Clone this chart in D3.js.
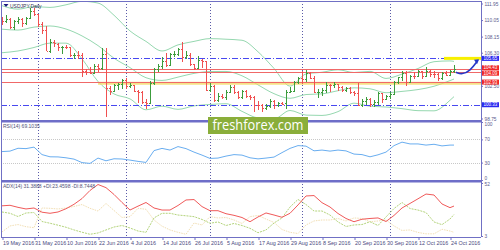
<!DOCTYPE html>
<html>
<head>
<meta charset="utf-8">
<script src="https://cdn.jsdelivr.net/npm/d3@7"></script>
<style>
body { margin: 0; background: #fff; }
svg { display: block; font-family: "Liberation Sans", Arial, sans-serif; }
</style>
</head>
<body>
<script>
// ---- data ----
var tickBars = [0, 8, 16, 24, 32, 40, 48, 56, 64, 72, 80, 88, 96, 104, 112];
var tickLabels = ["19 May 2016", "31 May 2016", "10 Jun 2016", "22 Jun 2016", "4 Jul 2016", "14 Jul 2016",
    "26 Jul 2016", "5 Aug 2016", "17 Aug 2016", "29 Aug 2016", "8 Sep 2016", "20 Sep 2016",
    "30 Sep 2016", "12 Oct 2016", "24 Oct 2016"];
var monthBars = [9, 31, 52, 75, 97];

var open = [110.0, 109.9, 110.15, 109.25, 109.95, 110.2, 109.75, 110.25, 111.1, 110.7,
    109.55, 108.95, 106.55, 107.55, 107.35, 106.9, 107.0, 106.95, 106.05, 106.05,
    106.0, 104.25, 104.1, 104.0, 104.75, 104.5, 106.15, 102.25, 101.9, 102.55,
    102.75, 103.2, 102.5, 102.6, 101.95, 101.75, 100.7, 100.55, 102.85, 104.4,
    104.75, 105.3, 104.85, 106.1, 106.15, 106.75, 105.8, 106.05, 105.0, 104.55,
    105.45, 105.3, 102.05, 102.5, 100.85, 101.3, 101.25, 101.8, 102.4, 101.8,
    101.2, 101.85, 101.3, 101.25, 100.3, 100.25, 99.9, 100.2, 100.75, 100.3,
    100.5, 100.5, 101.8, 101.95, 102.95, 103.4, 103.3, 104.0, 103.45, 101.75,
    101.75, 102.0, 102.65, 102.55, 102.7, 102.4, 102.05, 102.3, 101.75, 101.7,
    100.3, 100.75, 101.0, 100.4, 100.7, 101.7, 100.95, 101.35, 101.6, 102.9,
    103.5, 103.95, 102.95, 103.65, 103.6, 104.2, 103.6, 104.2, 103.9, 103.85,
    103.45, 103.95, 103.8, 104.2];
var high = [110.35, 110.6, 110.25, 110.0, 110.35, 110.25, 110.4, 111.45, 111.4, 110.75,
    109.8, 109.35, 107.9, 107.8, 107.45, 107.1, 107.2, 107.0, 106.3, 106.45,
    106.25, 104.4, 104.7, 104.95, 105.0, 106.8, 106.8, 102.5, 102.75, 102.8,
    103.3, 103.35, 102.8, 102.65, 102.0, 101.85, 100.95, 103.0, 104.5, 105.05,
    105.8, 106.3, 106.3, 106.5, 106.8, 107.5, 106.55, 106.3, 105.05, 105.95,
    105.55, 105.35, 102.85, 102.6, 101.7, 101.55, 102.05, 102.6, 102.6, 101.9,
    102.05, 102.0, 101.5, 101.3, 100.8, 100.45, 100.4, 100.95, 100.85, 100.65,
    100.7, 102.05, 102.4, 103.0, 103.55, 104.2, 104.3, 104.1, 103.6, 102.15,
    102.25, 102.95, 102.7, 102.9, 102.75, 102.5, 102.4, 102.35, 101.9, 102.8,
    101.0, 101.25, 101.05, 100.85, 101.8, 101.7, 101.45, 101.75, 103.0, 103.55,
    104.15, 104.15, 103.75, 104.05, 104.35, 104.25, 104.65, 104.3, 104.15, 103.95,
    104.05, 104.15, 104.35, 104.9];
var low = [109.55, 109.75, 109.1, 108.95, 109.7, 109.3, 109.55, 110.2, 110.55, 109.3,
    108.5, 106.5, 106.35, 107.0, 106.6, 106.25, 106.75, 105.9, 105.65, 105.6,
    103.55, 103.75, 103.9, 103.95, 104.1, 104.4, 99.0, 101.45, 101.8, 102.1,
    102.25, 102.25, 102.3, 101.9, 100.55, 100.5, 99.95, 100.5, 102.7, 104.1,
    104.5, 104.7, 104.85, 105.9, 105.95, 105.35, 105.6, 104.85, 104.4, 104.45,
    104.6, 101.95, 101.9, 100.7, 100.65, 101.0, 100.95, 101.75, 101.6, 101.05,
    101.1, 101.2, 100.95, 99.55, 99.75, 99.55, 99.75, 100.05, 99.95, 100.1,
    100.3, 99.95, 101.7, 101.9, 102.75, 102.8, 102.95, 103.3, 101.7, 101.2,
    101.35, 101.75, 101.9, 102.3, 102.0, 101.85, 101.85, 101.6, 101.4, 100.25,
    100.1, 100.35, 100.1, 100.1, 100.4, 100.6, 100.95, 101.0, 101.45, 102.8,
    103.1, 102.5, 102.85, 103.3, 103.55, 103.3, 103.55, 103.6, 103.5, 103.1,
    103.25, 103.65, 103.75, 104.0];
var close = [109.9, 110.15, 109.25, 109.95, 110.2, 109.75, 110.25, 111.1, 110.7, 109.55,
    108.95, 106.55, 107.55, 107.4, 106.9, 107.0, 106.95, 106.05, 106.05, 106.0,
    104.25, 104.1, 104.0, 104.75, 104.5, 106.15, 102.25, 101.9, 102.55, 102.75,
    103.2, 102.5, 102.6, 101.95, 101.75, 100.7, 100.55, 102.85, 104.4, 104.75,
    105.3, 104.85, 106.1, 106.15, 106.75, 105.8, 106.05, 105.0, 104.55, 105.45,
    105.3, 102.05, 102.5, 100.85, 101.3, 101.25, 101.8, 102.4, 101.8, 101.2,
    101.85, 101.3, 101.25, 100.3, 100.25, 99.9, 100.2, 100.75, 100.3, 100.5,
    100.45, 101.8, 101.95, 102.95, 103.4, 103.3, 104.0, 103.45, 101.75, 101.8,
    102.0, 102.65, 102.55, 102.7, 102.4, 102.05, 102.3, 101.75, 101.7, 100.3,
    100.75, 101.0, 100.4, 100.7, 101.7, 100.95, 101.35, 101.6, 102.9, 103.5,
    103.95, 102.95, 103.65, 103.6, 104.2, 103.6, 104.2, 103.9, 103.85, 103.45,
    103.95, 103.8, 104.2, 104.4];

// Bollinger bands (20), read every 4 bars
var bandBars = [0, 4, 8, 12, 16, 20, 24, 28, 32, 36, 40, 44, 48, 52, 56, 60, 64, 68, 72, 76,
    80, 84, 88, 92, 96, 100, 104, 108, 112, 113];
var bbUpper = [111.7, 111.3, 111.6, 111.5, 111.8, 112.2, 112.0, 110.6, 108.8, 107.6,
    106.5, 107.2, 107.6, 107.92, 107.85, 107.73, 106.41, 104.5, 102.47, 103.86,
    104.06, 104.34, 104.03, 104.16, 103.35, 103.84, 104.49, 105.27, 105.36, 105.3];
var bbMid = [109.0, 108.9, 109.24, 109.37, 109.02, 108.23, 107.12, 105.67, 104.59, 103.43,
    103.12, 103.5, 103.93, 104.14, 104.15, 103.65, 102.61, 101.6, 101.07, 101.5,
    101.58, 101.94, 102.27, 102.16, 101.71, 101.86, 102.07, 102.45, 103.1, 103.28];
var bbLower = [106.3, 106.5, 106.9, 107.4, 107.4, 105.6, 103.0, 101.57, 101.0, 99.75,
    100.16, 99.8, 100.2, 100.36, 100.45, 99.57, 98.81, 98.7, 99.67, 99.14,
    99.1, 99.54, 100.51, 100.16, 100.07, 99.88, 99.65, 99.63, 100.84, 101.26];

// oscillators, read every 2 bars
var indBars = d3.range(0, 114, 2).concat([113]);
var rsi = [49.0, 49.8, 54.7, 54.1, 56.7, 43.8, 40.0, 39.8, 38.3, 36.0,
    30.0, 28.6, 37.8, 33.1, 36.6, 36.2, 34.3, 32.1, 30.3, 50.7,
    54.5, 51.6, 57.6, 54.1, 48.1, 42.9, 37.2, 37.8, 41.2, 43.8,
    42.9, 38.3, 36.4, 37.8, 39.5, 47.2, 54.5, 59.3, 58.4, 50.3,
    51.6, 49.8, 51.6, 50.2, 44.7, 43.8, 40.0, 43.4, 48.1, 59.3,
    65.3, 62.2, 62.2, 60.2, 61.6, 58.8, 60.2, 60.2];
var adx = [30.9, 31.4, 29.5, 28.0, 28.9, 25.0, 24.0, 25.2, 28.2, 32.3,
    37.6, 45.1, 50.6, 47.7, 41.4, 34.0, 27.0, 30.6, 34.0, 28.9,
    27.0, 27.0, 31.2, 36.3, 36.7, 30.2, 26.4, 26.4, 23.6, 22.1,
    20.1, 16.2, 20.6, 24.3, 22.4, 20.3, 24.0, 31.7, 40.0, 40.4,
    33.8, 29.8, 23.8, 19.2, 16.2, 18.5, 19.2, 19.7, 16.4, 22.0,
    28.9, 33.1, 37.4, 41.8, 40.9, 32.6, 29.2, 30.7];
var plusDI = [25.2, 24.0, 21.0, 24.3, 24.7, 16.4, 14.8, 13.0, 11.1, 8.6,
    6.5, 4.6, 5.8, 8.6, 11.3, 12.7, 10.4, 7.6, 6.4, 19.7,
    24.0, 24.0, 22.4, 21.7, 20.9, 18.3, 14.8, 16.0, 12.7, 14.6,
    12.7, 10.1, 6.0, 8.6, 15.0, 19.7, 29.8, 36.8, 32.1, 26.1,
    26.1, 22.4, 16.0, 11.8, 13.2, 13.6, 16.2, 12.7, 20.6, 28.4,
    34.0, 28.4, 27.0, 24.7, 16.0, 13.5, 18.7, 22.9];
var minusDI = [6.7, 12.3, 13.6, 11.6, 10.7, 28.9, 28.6, 28.0, 28.9, 30.3,
    32.1, 28.6, 26.1, 33.1, 26.6, 20.1, 20.9, 28.6, 27.7, 17.8,
    12.1, 8.6, 6.4, 4.6, 15.0, 13.2, 20.9, 19.7, 20.1, 17.8,
    14.6, 20.9, 22.0, 18.7, 15.5, 9.0, 6.4, 5.3, 13.2, 16.9,
    17.8, 17.8, 19.2, 16.9, 19.7, 19.2, 16.2, 16.9, 17.8, 12.3,
    8.1, 8.6, 6.3, 5.0, 5.0, 9.2, 7.6, 6.4];

var priceTicks = [111.95, 110.05, 108.15, 106.30, 102.50, 98.75];
var rsiTicks = [100, 70, 30, 0];
var adxTicks = [52, 3];
var blueLevels = [105.65, 100.33];
var redLevels = [104.43, 104.09, 102.93];
var zoneLevel = 102.85, zoneStart = 24;
var targetLevel = 105.65;
var arrowPath = [[113.5, 104.05], [115, 103.8], [117, 104.2], [119, 105.45]];

// ---- layout ----
var W = 500, H = 250;
var right = 481;
var svg = d3.select("body").append("svg").attr("width", W).attr("height", H);

var x = d3.scaleLinear().domain([0, 113]).range([2, 454]);
var yP = d3.scaleLinear().domain([98.75, 111.95]).range([118.5, 3.5]);
var yR = d3.scaleLinear().domain([0, 100]).range([180, 122]);
var yA = d3.scaleLinear().domain([3, 52]).range([236, 183]);
var px = function (i) { return Math.round(x(i)) + 0.5; };

var defs = svg.append("defs");
[["clipMain", 1, 121], ["clipRsi", 122, 180], ["clipAdx", 182, 237]].forEach(function (c) {
    defs.append("clipPath").attr("id", c[0]).append("rect")
        .attr("x", 1).attr("y", c[1]).attr("width", right - 1).attr("height", c[2] - c[1]);
});

svg.append("rect").attr("width", W).attr("height", H).attr("fill", "#fff");

// month separators
svg.selectAll(".sep").data(monthBars).enter().append("line")
    .attr("x1", px).attr("x2", px).attr("y1", 1).attr("y2", 237)
    .attr("stroke", "#5a5aa8").attr("stroke-dasharray", "1,2");

var main = svg.append("g").attr("clip-path", "url(#clipMain)");

// bollinger bands
var bandLine = function (vals) {
    return d3.line().curve(d3.curveMonotoneX)
        .x(function (d, k) { return x(bandBars[k]); })
        .y(function (d) { return yP(d); })(vals);
};
[bbUpper, bbMid, bbLower].forEach(function (v) {
    main.append("path").attr("d", bandLine(v)).attr("fill", "none")
        .attr("stroke", "#96d8b0").attr("stroke-width", 1);
});

// support zone highlight
main.append("rect")
    .attr("x", x(zoneStart)).attr("width", right - x(zoneStart))
    .attr("y", yP(zoneLevel) - 1).attr("height", 3)
    .attr("fill", "#f2d860").attr("opacity", 0.75);

// horizontal levels
main.selectAll(".red").data(redLevels).enter().append("line")
    .attr("x1", 1).attr("x2", right)
    .attr("y1", function (d) { return Math.round(yP(d)) + 0.5; })
    .attr("y2", function (d) { return Math.round(yP(d)) + 0.5; })
    .attr("stroke", "#f06868").attr("stroke-width", 1);
main.selectAll(".blue").data(blueLevels).enter().append("line")
    .attr("x1", 1).attr("x2", right)
    .attr("y1", function (d) { return Math.round(yP(d)) + 0.5; })
    .attr("y2", function (d) { return Math.round(yP(d)) + 0.5; })
    .attr("stroke", "#4848f0").attr("stroke-dasharray", "6,2,1,2");

// OHLC bars
var bars = main.selectAll(".bar").data(d3.range(open.length)).enter().append("g")
    .attr("stroke", function (i) { return close[i] >= open[i] ? "#3c9c3c" : "#f05050"; })
    .attr("stroke-width", 1).attr("shape-rendering", "crispEdges");
bars.append("line")
    .attr("x1", px).attr("x2", px)
    .attr("y1", function (i) { return yP(high[i]); })
    .attr("y2", function (i) { return yP(low[i]) + 0.5; });
bars.append("line")
    .attr("x1", function (i) { return px(i) - 1.5; }).attr("x2", px)
    .attr("y1", function (i) { return Math.round(yP(open[i])) + 0.5; })
    .attr("y2", function (i) { return Math.round(yP(open[i])) + 0.5; });
bars.append("line")
    .attr("x1", px).attr("x2", function (i) { return px(i) + 1.5; })
    .attr("y1", function (i) { return Math.round(yP(close[i])) + 0.5; })
    .attr("y2", function (i) { return Math.round(yP(close[i])) + 0.5; });

// target highlight and arrow
main.append("rect")
    .attr("x", x(110.5)).attr("width", right - x(110.5))
    .attr("y", yP(targetLevel) - 1.5).attr("height", 3)
    .attr("fill", "#f8f000");
main.append("path")
    .attr("d", d3.line().curve(d3.curveBasis)
        .x(function (d) { return x(d[0]); }).y(function (d) { return yP(d[1]); })(arrowPath))
    .attr("fill", "none").attr("stroke", "#2636c8").attr("stroke-width", 1.6);
var tip = arrowPath[arrowPath.length - 1];
main.append("path")
    .attr("d", "M" + (x(tip[0]) + 1) + "," + (yP(tip[1]) - 1) +
        "L" + (x(tip[0]) - 4) + "," + (yP(tip[1]) - 0.5) +
        "L" + (x(tip[0]) - 1) + "," + (yP(tip[1]) + 4) + "Z")
    .attr("fill", "#2636c8");

// RSI panel
var rsiG = svg.append("g").attr("clip-path", "url(#clipRsi)");
rsiG.selectAll(".lvl").data([70, 30]).enter().append("line")
    .attr("x1", 1).attr("x2", right)
    .attr("y1", function (d) { return Math.round(yR(d)) + 0.5; })
    .attr("y2", function (d) { return Math.round(yR(d)) + 0.5; })
    .attr("stroke", "#c8c8c8").attr("stroke-dasharray", "1,1");
rsiG.append("path")
    .attr("d", d3.line().x(function (d, k) { return x(indBars[k]); }).y(function (d) { return yR(d); })(rsi))
    .attr("fill", "none").attr("stroke", "#6aaef0").attr("stroke-width", 1);

// ADX panel
var adxG = svg.append("g").attr("clip-path", "url(#clipAdx)");
var adxLine = d3.line().x(function (d, k) { return x(indBars[k]); }).y(function (d) { return yA(d); });
adxG.append("path").attr("d", adxLine(minusDI)).attr("fill", "none")
    .attr("stroke", "#f2dfb4").attr("stroke-dasharray", "1.5,1");
adxG.append("path").attr("d", adxLine(plusDI)).attr("fill", "none")
    .attr("stroke", "#b4d47c").attr("stroke-dasharray", "2,1");
adxG.append("path").attr("d", adxLine(adx)).attr("fill", "none")
    .attr("stroke", "#f05a5a").attr("stroke-width", 1);

// frames
var frame = "#7070c4";
svg.append("line").attr("x1", 1.5).attr("x2", 1.5).attr("y1", 1).attr("y2", 237).attr("stroke", frame);
svg.append("line").attr("x1", 1).attr("x2", right).attr("y1", 1.5).attr("y2", 1.5).attr("stroke", frame);
svg.append("line").attr("x1", right + 0.5).attr("x2", right + 0.5).attr("y1", 1).attr("y2", 237).attr("stroke", frame);
svg.append("line").attr("x1", 1).attr("x2", right).attr("y1", 237.5).attr("y2", 237.5).attr("stroke", frame);
[121, 181].forEach(function (yy) {
    svg.append("rect").attr("x", 1).attr("y", yy - 1).attr("width", right).attr("height", 2.5).attr("fill", "#6e6ec8");
});

// axes
var fmt = d3.format(".2f");
var axisP = d3.axisRight(yP).tickValues(priceTicks).tickFormat(fmt).tickSize(2).tickPadding(1.5);
var axisR = d3.axisRight(yR).tickValues(rsiTicks).tickSize(2).tickPadding(1.5);
var axisA = d3.axisRight(yA).tickValues(adxTicks).tickSize(2).tickPadding(1.5);
// small nudges so the bottom/top labels of stacked panels do not collide
var nudge = { "0": -2.5, "100": 1.5, "52": 1.2, "3": -0.5 };
[axisP, axisR, axisA].forEach(function (a) {
    var g = svg.append("g").attr("transform", "translate(" + right + ",0)").call(a);
    g.select(".domain").remove();
    g.selectAll("line").attr("stroke", frame);
    g.selectAll("text").attr("font-size", 4.8).attr("fill", "#5a5a8c")
        .attr("font-family", "Liberation Sans, Arial, sans-serif")
        .attr("y", function () { return nudge[this.textContent] || 0; });
});

var axisX = d3.axisBottom(x).tickValues(tickBars)
    .tickFormat(function (d, k) { return tickLabels[k]; }).tickSize(3).tickPadding(1.5);
var gx = svg.append("g").attr("transform", "translate(0.5,237)").call(axisX);
gx.select(".domain").remove();
gx.selectAll("line").attr("stroke", frame);
gx.selectAll("text").attr("font-size", 5.4).attr("fill", "#4a4a80")
    .attr("text-anchor", "start").attr("dx", 0)
    .attr("font-family", "Liberation Sans, Arial, sans-serif");

// level price labels on axis, stacked so close levels do not cover each other
var tagH = 5;
var tagData = blueLevels.map(function (d) { return { v: d, c: "#2a2af0" }; })
    .concat(redLevels.map(function (d) { return { v: d, c: "#f02828" }; }))
    .sort(function (a, b) { return b.v - a.v; });
tagData.forEach(function (d, k) {
    d.y = yP(d.v);
    if (k > 0 && d.y - tagData[k - 1].y < tagH + 0.4) {
        var mid = (d.y + tagData[k - 1].y) / 2;
        tagData[k - 1].y = mid - (tagH + 0.4) / 2;
        d.y = mid + (tagH + 0.4) / 2;
    }
});
var tags = svg.selectAll(".tag").data(tagData).enter().append("g");
tags.append("rect").attr("x", right + 1).attr("width", 17)
    .attr("y", function (d) { return d.y - tagH / 2; }).attr("height", tagH)
    .attr("fill", function (d) { return d.c; });
tags.append("text").attr("x", right + 2.5)
    .attr("y", function (d) { return d.y + 1.6; })
    .attr("font-size", 4.5).attr("fill", "#fff")
    .text(function (d) { return fmt(d.v); });

// panel titles
svg.append("path").attr("d", "M3.5,4L8.5,4L6,7Z").attr("fill", "#1a1a80");
svg.append("text").attr("x", 10).attr("y", 7.8).attr("font-size", 5).attr("fill", "#303050")
    .text("USDJPY,Daily");
svg.append("text").attr("x", 3).attr("y", 127.5).attr("font-size", 5).attr("fill", "#505078")
    .text("RSI(14) 69.1035");
svg.append("text").attr("x", 3).attr("y", 188).attr("font-size", 5).attr("fill", "#505078")
    .text("ADX(14) 31.3888 +DI:23.4598 -DI:8.7448");

// watermark
svg.append("rect").attr("x", 208).attr("y", 117).attr("width", 100).attr("height", 17)
    .attr("fill", "#8aae3a");
svg.append("text").attr("x", 212.5).attr("y", 130)
    .attr("font-family", "Open Sans, sans-serif").attr("font-size", 14.5).attr("fill", "#fff")
    .attr("textLength", 91).attr("lengthAdjust", "spacingAndGlyphs")
    .text("freshforex.com");
</script>
</body>
</html>
